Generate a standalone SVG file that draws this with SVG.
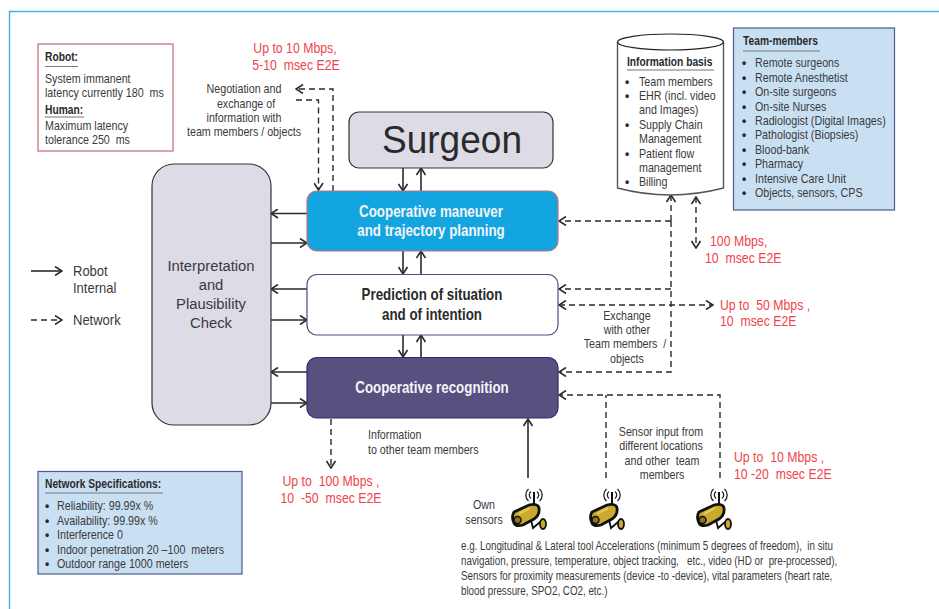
<svg xmlns="http://www.w3.org/2000/svg" width="939" height="609" viewBox="0 0 939 609">
<style>
text{font-family:"Liberation Sans",Arial,sans-serif;font-size:12.5px;fill:#3a3a3c;white-space:pre;transform-box:fill-box;transform-origin:0 0;transform:scaleX(.856)}
text.c{text-anchor:middle;transform-origin:50% 0}
text.b{font-weight:bold;fill:#2a2a2c;transform:scaleX(.82)}
text.r{fill:#f0434c;font-size:15px;transform:scaleX(.82)}
text.h{font-weight:bold;font-size:16px;transform:scaleX(.835)}
text.w{fill:#f4f4f8}
text.l{font-size:14px;transform:scaleX(.93)}
text.i{font-size:15.5px;transform:scaleX(.955)}
text.f{transform:scaleX(.785)}
text.p{font-size:12px;font-weight:bold;transform:none;fill:#2a2a2c}
.u{stroke:#77777c;stroke-width:1.2;fill:none}
.s{stroke:#2a2a2c;stroke-width:1.6;fill:none}
.d{stroke:#2a2a2c;stroke-width:1.4;fill:none;stroke-dasharray:6 4}
</style>
<defs>
<marker id="a" viewBox="0 0 10 10" refX="9" refY="5" markerWidth="10" markerHeight="10" markerUnits="userSpaceOnUse" orient="auto-start-reverse"><path d="M2 0.5L9 5L2 9.500" fill="none" stroke="#2a2a2c" stroke-width="1.600"/></marker>
<g id="cam">
<path d="M-5.500 -6A8 8 0 0 0 -5.500 6M-3 -3.500A4.500 4.500 0 0 0 -3 3.500M5.500 -6A8 8 0 0 1 5.500 6M3 -3.500A4.500 4.500 0 0 1 3 3.500" fill="none" stroke="#222" stroke-width="1.300"/>
<path d="M0 -3V13" stroke="#111" stroke-width="2"/>
<path d="M-20 17L-5 10Q4 8 5 13Q6 20 0 24L-11 30Q-18 32 -20 28Q-23 22 -20 17Z" fill="#c9a92e" stroke="#111" stroke-width="2.800"/>
<path d="M-15 19L-4 13" stroke="#e0c95a" stroke-width="2.500" fill="none"/>
<ellipse cx="-16.500" cy="25" rx="3.500" ry="3.500" fill="#8a7420" stroke="#111" stroke-width="1.500"/>
<path d="M-3 25L-1 33L6 27L8 29" fill="none" stroke="#111" stroke-width="1.800"/>
<ellipse cx="9" cy="29" rx="3" ry="5" fill="#c9a92e" stroke="#111" stroke-width="1.800"/>
</g>
</defs>
<path d="M9.500 609V11.500H939" fill="none" stroke="#3fb6e0" stroke-width="1.400"/>
<g id="connectors">
<path class="s" marker-end="url(#a)" d="M403 168V191"/>
<path class="s" marker-end="url(#a)" d="M421 191V168"/>
<path class="s" marker-end="url(#a)" d="M403 251V274"/>
<path class="s" marker-end="url(#a)" d="M421 274V251"/>
<path class="s" marker-end="url(#a)" d="M403 335V357"/>
<path class="s" marker-end="url(#a)" d="M421 357V335"/>
<path class="s" marker-end="url(#a)" d="M307 213.500H271"/>
<path class="s" marker-end="url(#a)" d="M271 243H307"/>
<path class="s" marker-end="url(#a)" d="M307 289H271"/>
<path class="s" marker-end="url(#a)" d="M271 320H307"/>
<path class="s" marker-end="url(#a)" d="M307 372H271"/>
<path class="s" marker-end="url(#a)" d="M271 403H307"/>
<path class="s" stroke-width="2" marker-end="url(#a)" d="M528 478V419"/>
<path class="d" marker-end="url(#a)" d="M333 191V89H296"/>
<path class="d" marker-end="url(#a)" d="M296 100H318.500V190"/>
<path class="d" marker-end="url(#a)" d="M671 221H559"/>
<path class="d" marker-end="url(#a)" d="M671 221V195"/>
<path class="d" marker-end="url(#a)" d="M671 221V372H559"/>
<path class="d" marker-end="url(#a)" d="M671 289H559"/>
<path class="d" marker-start="url(#a)" marker-end="url(#a)" d="M559 305H713"/>
<path class="d" marker-start="url(#a)" marker-end="url(#a)" d="M696 197V248"/>
<path class="d" marker-end="url(#a)" d="M720 478V395H559"/>
<path class="d" d="M606 478V395"/>
<path class="d" marker-end="url(#a)" d="M331 419V468"/>
</g>
<g id="legend">
<path class="s" marker-end="url(#a)" d="M31 271H62"/>
<path class="d" marker-end="url(#a)" d="M31 320H62"/>
<text class="l" x="73" y="276">Robot</text>
<text class="l" x="73" y="293">Internal</text>
<text class="l" x="73" y="325">Network</text>
</g>
<g id="robot-note">
<rect x="38" y="44" width="135" height="107" fill="#fff" stroke="#c97f85" stroke-width="1.400"/>
<text class="b" x="45" y="61">Robot:</text><path class="u" d="M45 66.500H78"/>
<text x="45" y="83">System immanent</text>
<text x="45" y="97">latency currently 180  ms</text>
<text class="b" x="45" y="114">Human:</text><path class="u" d="M45 117H84"/>
<text x="45" y="130">Maximum latency</text>
<text x="45" y="144">tolerance 250  ms</text>
</g>
<g id="interpretation">
<rect x="152" y="164" width="119" height="261" rx="22" fill="#dcdbe6" stroke="#333" stroke-width="1.200"/>
<text class="c i" x="211" y="271">Interpretation</text>
<text class="c i" x="211" y="290">and</text>
<text class="c i" x="211" y="309">Plausibility</text>
<text class="c i" x="211" y="328">Check</text>
</g>
<g id="surgeon">
<rect x="349" y="112" width="204" height="56" rx="10" fill="#dcdbe6" stroke="#333" stroke-width="1.200"/>
<text class="c" x="452" y="153" style="font-size:39px;fill:#2a2a2c;transform:scaleX(.95)">Surgeon</text>
</g>
<g id="planning">
<rect x="307" y="191" width="251" height="60" rx="10" fill="#12a5e0" stroke="#c0747c" stroke-width="1.200"/>
<text class="c h w" x="431" y="217">Cooperative maneuver</text>
<text class="c h w" x="431" y="236">and trajectory planning</text>
</g>
<g id="prediction">
<rect x="307" y="274.500" width="251" height="60.500" rx="10" fill="#fff" stroke="#4d4a86" stroke-width="1.200"/>
<text class="c h" x="432" y="300" style="fill:#2a2a2c">Prediction of situation</text>
<text class="c h" x="432" y="320" style="fill:#2a2a2c">and of intention</text>
</g>
<g id="recognition">
<rect x="307" y="357.500" width="251" height="60.500" rx="10" fill="#58507e" stroke="#2f2b70" stroke-width="1.200"/>
<text class="c h w" x="432" y="393">Cooperative recognition</text>
</g>
<g id="information-basis">
<path d="M617.500 42V188Q670 202 723.500 188V42" fill="#fff" stroke="#555" stroke-width="1.400"/>
<ellipse cx="670.500" cy="42" rx="53" ry="8" fill="#fff" stroke="#222" stroke-width="1.200"/>
<text class="b" x="627" y="66">Information basis</text><path class="u" d="M627 70H714"/>
<text class="p" x="625" y="86">•</text><text x="639" y="86">Team members</text>
<text class="p" x="625" y="100">•</text><text x="639" y="100">EHR (incl. video</text>
<text x="639" y="114">and Images)</text>
<text class="p" x="625" y="129">•</text><text x="639" y="129">Supply Chain</text>
<text x="639" y="143">Management</text>
<text class="p" x="625" y="158">•</text><text x="639" y="158">Patient flow</text>
<text x="639" y="172">management</text>
<text class="p" x="625" y="186">•</text><text x="639" y="186">Billing</text>
</g>
<g id="team-members">
<rect x="733.500" y="28" width="161" height="182" fill="#c9e0f3" stroke="#4d5a90" stroke-width="1.200"/>
<text class="b" x="743" y="45">Team-members</text><path class="u" d="M743 51H820"/>
<text class="p" x="742" y="67">•</text><text x="755" y="67">Remote surgeons</text>
<text class="p" x="742" y="82">•</text><text x="755" y="82">Remote Anesthetist</text>
<text class="p" x="742" y="96">•</text><text x="755" y="96">On-site surgeons</text>
<text class="p" x="742" y="111">•</text><text x="755" y="111">On-site Nurses</text>
<text class="p" x="742" y="125">•</text><text x="755" y="125">Radiologist (Digital Images)</text>
<text class="p" x="742" y="139">•</text><text x="755" y="139">Pathologist (Biopsies)</text>
<text class="p" x="742" y="154">•</text><text x="755" y="154">Blood-bank</text>
<text class="p" x="742" y="168">•</text><text x="755" y="168">Pharmacy</text>
<text class="p" x="742" y="183">•</text><text x="755" y="183">Intensive Care Unit</text>
<text class="p" x="742" y="197">•</text><text x="755" y="197">Objects, sensors, CPS</text>
</g>
<g id="network-spec">
<rect x="38" y="471.500" width="204" height="102.500" fill="#c9e0f3" stroke="#4d5a90" stroke-width="1.200"/>
<text class="b" x="45" y="488">Network Specifications:</text><path class="u" d="M45 493H163"/>
<text class="p" x="45" y="510">•</text><text x="57" y="510">Reliability: 99.99x %</text>
<text class="p" x="45" y="525">•</text><text x="57" y="525">Availability: 99.99x %</text>
<text class="p" x="45" y="539">•</text><text x="57" y="539">Interference 0</text>
<text class="p" x="45" y="554">•</text><text x="57" y="554">Indoor penetration 20 –100  meters</text>
<text class="p" x="45" y="568">•</text><text x="57" y="568">Outdoor range 1000 meters</text>
</g>
<g id="labels">
<text class="r c" x="295" y="53">Up to 10 Mbps,</text>
<text class="r c" x="296" y="70">5-10  msec E2E</text>
<text class="c" x="244" y="93">Negotiation and</text>
<text class="c" x="246" y="108">exchange of</text>
<text class="c" x="244" y="122">information with</text>
<text class="c" x="244" y="136">team members / objects</text>
<text class="r" x="710" y="246">100 Mbps,</text>
<text class="r" x="705" y="263">10  msec E2E</text>
<text class="r" x="720" y="310">Up to  50 Mbps ,</text>
<text class="r" x="720" y="326">10  msec E2E</text>
<text class="c" x="627" y="320">Exchange</text>
<text class="c" x="627" y="334">with other</text>
<text class="c" x="625" y="348">Team members  /</text>
<text class="c" x="627" y="363">objects</text>
<text x="368" y="439">Information</text>
<text x="368" y="454">to other team members</text>
<text class="r c" x="331" y="486">Up to  100 Mbps ,</text>
<text class="r c" x="331" y="503">10  -50  msec E2E</text>
<text class="c" x="661" y="436">Sensor input from</text>
<text class="c" x="661" y="450">different locations</text>
<text class="c" x="662" y="465">and other  team</text>
<text class="c" x="662" y="479">members</text>
<text class="r" x="734" y="462">Up to  10 Mbps ,</text>
<text class="r" x="734" y="479">10 -20  msec E2E</text>
<text class="c" x="484" y="509">Own</text>
<text class="c" x="484" y="524">sensors</text>
<text class="f" x="461" y="550">e.g. Longitudinal &amp; Lateral tool Accelerations (minimum 5 degrees of freedom),  in situ</text>
<text class="f" x="461" y="565">navigation, pressure, temperature, object tracking,   etc., video (HD or  pre-processed),</text>
<text class="f" x="461" y="580">Sensors for proximity measurements (device -to -device), vital parameters (heart rate,</text>
<text class="f" x="461" y="595">blood pressure, SPO2, CO2, etc.)</text>
</g>
<g id="sensor-1"><use href="#cam" x="534" y="495"/></g>
<g id="sensor-2"><use href="#cam" x="612" y="495"/></g>
<g id="sensor-3"><use href="#cam" x="719" y="495"/></g>
</svg>
